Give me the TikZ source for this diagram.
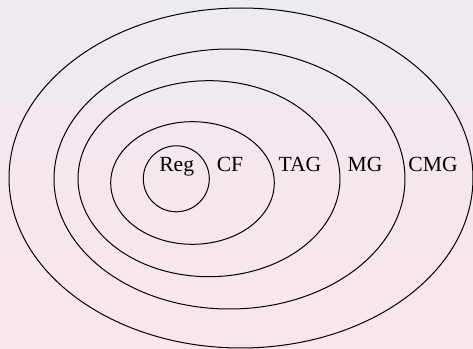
\documentclass[tikz,border=0pt]{standalone}
\usepackage{fontspec}
\setmainfont{Liberation Serif}
\definecolor{bgtop}{RGB}{238,234,242}
\definecolor{bgbottom}{RGB}{250,229,234}
\tikzset{
  set/.style={draw=black,line width=0.5pt},
  setname/.style={anchor=base,inner sep=0pt}
}
\begin{document}
\begin{tikzpicture}[x=0.5pt,y=0.5pt,font=\fontsize{10.8}{13}\selectfont]
    % background
    \shade [top color=bgtop,bottom color=bgbottom] (0,0) rectangle (473,349);
    \useasboundingbox (0,0) rectangle (473,349);
    % set coordinates
    \coordinate (cmg) at (241,171);
    \coordinate (mg) at (229.5,170);
    \coordinate (tag) at (209,170.3);
    \coordinate (cf) at (192.5,166);
    \coordinate (reg) at (176.3,170.2);
    % draw figure
    \draw [set] (cmg) ellipse [x radius=232,y radius=170];
    \draw [set] (mg) ellipse [x radius=175.5,y radius=130];
    \draw [set] (tag) ellipse [x radius=131,y radius=98];
    \draw [set] (cf) ellipse [x radius=81.8,y radius=61.3];
    \draw [set] (reg) circle [radius=33];
    % add labels
    \node [setname] (lreg) at (176.7,177.3) {Reg};
    \node [setname] (lcf) at (230,177.3) {CF};
    \node [setname] (ltag) at (300,177.3) {TAG};
    \node [setname] (lmg) at (365,177.3) {MG};
    \node [setname] (lcmg) at (433,177.3) {CMG};
\end{tikzpicture}
\end{document}
